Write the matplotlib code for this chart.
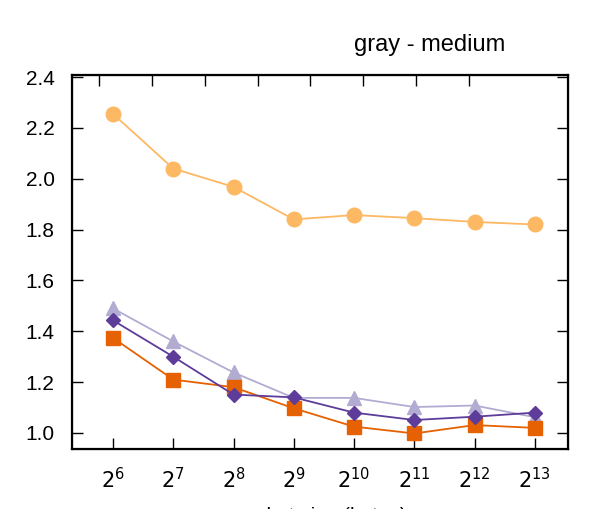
import numpy as np
import matplotlib.pyplot as plt

plt.rcParams['font.family'] = ['Liberation Sans', 'DejaVu Sans']

# Datos
exps = [6, 7, 8, 9, 10, 11, 12, 13]
xlabels = ['$2^{%d}$' % e for e in exps]
circles = [2.255, 2.04, 1.968, 1.84, 1.857, 1.845, 1.83, 1.82]
triangles = [1.49, 1.36, 1.238, 1.138, 1.138, 1.102, 1.108, 1.062]
squares = [1.374, 1.21, 1.18, 1.097, 1.025, 0.998, 1.031, 1.02]
diamonds = [1.443, 1.3, 1.151, 1.14, 1.08, 1.051, 1.064, 1.08]

fig = plt.figure(figsize=(5.98, 5.09), dpi=100)
ax = fig.add_axes([0.1204, 0.1179, 0.8294, 0.7348])

ax.plot(exps, circles, color='#fdb863', marker='o', markersize=10.5, lw=1.3, zorder=3)
ax.plot(exps, triangles, color='#b2abd2', marker='^', markersize=10, lw=1.3, zorder=4)
ax.plot(exps, squares, color='#e66101', marker='s', markersize=9.5, lw=1.3, zorder=5)
ax.plot(exps, diamonds, color='#5e3c99', marker='D', markersize=7, lw=1.3, zorder=6)

ax.set_xlim(5.32, 13.55)
ax.set_ylim(0.937, 2.408)
ax.set_xticks(exps)
ax.set_xticklabels(xlabels)
ax.set_yticks([1.0, 1.2, 1.4, 1.6, 1.8, 2.0, 2.2, 2.4])
ax.set_yticklabels(['%.1f' % v for v in ax.get_yticks()])
ax.tick_params(axis='both', direction='in', length=8, width=1, labelsize=15)
ax.tick_params(axis='y', right=True, pad=12.5)
ax.tick_params(axis='x', pad=13)
for s in ax.spines.values():
    s.set_linewidth(1.6)

# ticks superiores
ax2 = ax.twiny()
ax2.set_xlim(0, 1)
ax2.set_xticks([0.0544 + 0.1066 * i for i in range(8)])
ax2.set_xticklabels([])
ax2.tick_params(axis='x', direction='in', length=8, width=1)

fig.text(0.535, -0.026, 'packet size (bytes)', ha='center', va='baseline', fontsize=15)
fig.text(0.719, 0.8998, 'gray - medium', ha='center', va='baseline', fontsize=17)

fig.savefig('out.png', dpi=100)
